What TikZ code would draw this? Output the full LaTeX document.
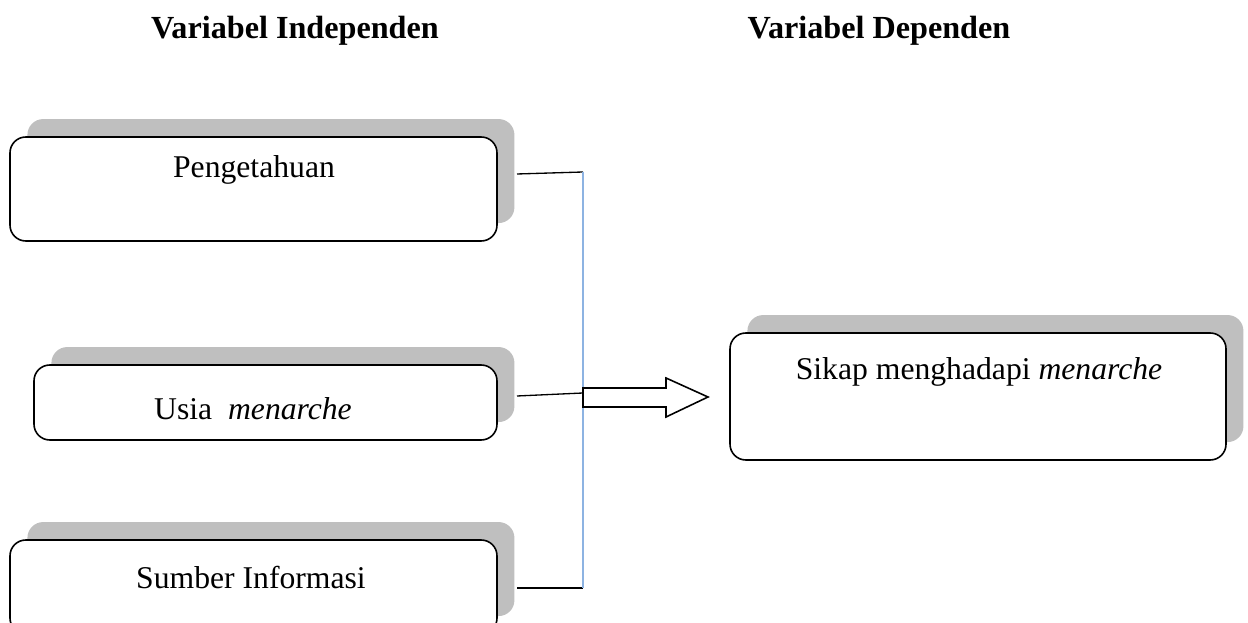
\documentclass[tikz,border=0pt]{standalone}
\usepackage{fontspec}
\setmainfont{Liberation Serif}
\usetikzlibrary{shadows}
\def\px{0.379pt}
\definecolor{garisbiru}{HTML}{8DB3E2}
\tikzset{kotak/.style={draw, rounded corners=6pt, line width=0.6pt, fill=white,
  drop shadow={shadow xshift=6.6pt, shadow yshift=6.8pt, fill=black!25, opacity=1}},
  judul/.style={font=\fontsize{12.2}{14}\selectfont\bfseries}}

\begin{document}
\begin{tikzpicture}[x=\px, y=-\px, font=\fontsize{12}{14}\selectfont]
\useasboundingbox (0,0) rectangle (1248,623);
\node[judul] (hi) at (295,31) {Variabel Independen};
\node[judul] (hd) at (879,31) {Variabel Dependen};
% kotak variabel
\node[kotak, minimum width=487*\px, minimum height=104*\px] (p) at (253.5,189) {};
\node[kotak, minimum width=463*\px, minimum height=75*\px] (u) at (265.5,402.5) {};
\node[kotak, minimum width=487*\px, minimum height=94*\px] (s) at (253.5,587) {};
\node[kotak, minimum width=496*\px, minimum height=127*\px] (k) at (978,396.5) {};
\node (tp) at (254,170) {Pengetahuan};
\node (tu) at (253,409) {Usia\ \ \textit{menarche}};
\node (ts) at (251,578) {Sumber Informasi};
\node (tk) at (979,372) {Sikap menghadapi \textit{menarche}};
% garis
\coordinate (a1) at (517,174);
\coordinate (a2) at (517,396);
\coordinate (a3) at (517,588);
\coordinate (b1) at (583,172);
\coordinate (b2) at (583,393);
\coordinate (b3) at (583,588);
\draw[line width=0.5pt] (a1) -- (b1);
\draw[line width=0.5pt] (a2) -- (b2);
\draw[line width=0.5pt] (a3) -- (b3);
\draw[garisbiru, line width=0.6pt] (b1) -- (b3);
\draw[line width=0.6pt, fill=white] (583,388) -- (666,388) -- (666,378) -- (708,397)
  -- (666,417) -- (666,407) -- (583,407) -- cycle;
\end{tikzpicture}
\end{document}
